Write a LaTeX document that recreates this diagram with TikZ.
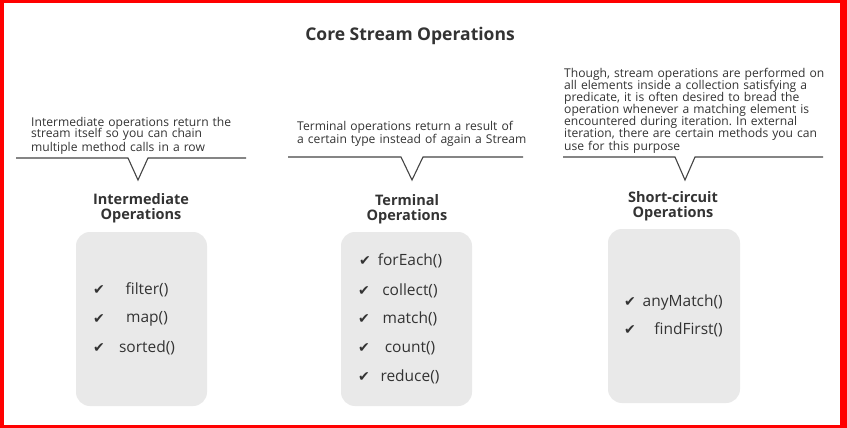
\documentclass[tikz,border=0pt]{standalone}
\usepackage{fontspec}
\setmainfont{Open Sans}
\newfontfamily\symfont{DejaVu Sans}
\definecolor{txt}{HTML}{333333}
\definecolor{ln}{HTML}{444444}
\definecolor{boxfill}{HTML}{E9E9E9}
\newcommand\tightls{\lineskiplimit=-100pt\relax\lineskip=0pt\relax}
\frenchspacing
\begin{document}
\begin{tikzpicture}[x=1pt,y=-1pt,
  desc/.style={anchor=base west,inner sep=0pt,align=left,text=txt,font=\fontsize{12.1}{#1}\selectfont},
  head/.style={inner sep=0pt,align=center,text=txt,font=\bfseries\fontsize{14.5}{15}\selectfont},
  opbox/.style={fill=boxfill,rounded corners=14pt},
  item/.style={inner sep=0pt,text=txt,font=\fontsize{15.5}{17}\selectfont},
  chk/.style={inner sep=0pt,text=txt,font=\symfont\fontsize{14}{14}\selectfont},
  callout/.style={draw=ln,line width=1.1pt}]
\useasboundingbox (0,0) rectangle (847,428);
\fill[red] (0,0) rectangle (847,428);
\fill[white] (4,3) rectangle (840,425);
\node[inner sep=0pt,text=txt,font=\bfseries\fontsize{17.5}{20}\selectfont] (title) at (410,36) {Core Stream Operations};

% left
\node[desc=11.5,text width=240pt] (d1) at (31,126.5) {\tightls Intermediate operations return the\\stream itself so you can chain\\multiple method calls in a row};
\coordinate (l1a) at (16,158); \coordinate (l1b) at (128,158); \coordinate (l1c) at (138,180);
\coordinate (l1d) at (148,158); \coordinate (l1e) at (246,158);
\draw[callout] (l1a) -- (l1b) -- (l1c) -- (l1d) -- (l1e);
\node[head] (h1) at (141,208.5) {Intermediate\\Operations};
\node[opbox,minimum width=131pt,minimum height=174pt] (b1) at (141.5,319) {};
\node[chk] (c1a) at (99,290) {✔};
\node[item] (i1a) at (147,290) {filter()};
\node[chk] (c1b) at (99,319) {✔};
\node[item] (i1b) at (147,319) {map()};
\node[chk] (c1c) at (99,348) {✔};
\node[item] (i1c) at (147,348) {sorted()};

% middle
\node[desc=12.3,text width=260pt] (d2) at (297,131) {\tightls Terminal operations return a result of\\a certain type instead of again a Stream};
\coordinate (l2a) at (288,157); \coordinate (l2b) at (401,157); \coordinate (l2c) at (412,180);
\coordinate (l2d) at (423,157); \coordinate (l2e) at (523,157);
\draw[callout] (l2a) -- (l2b) -- (l2c) -- (l2d) -- (l2e);
\node[head] (h2) at (407,209) {Terminal\\Operations};
\node[opbox,minimum width=131pt,minimum height=174pt] (b2) at (406.5,319) {};
\node[chk] (c2a) at (365,261) {✔};
\node[item] (i2a) at (410,261) {forEach()};
\node[chk] (c2b) at (364,291) {✔};
\node[item] (i2b) at (410,291) {collect()};
\node[chk] (c2c) at (364,319) {✔};
\node[item] (i2c) at (410,319) {match()};
\node[chk] (c2d) at (364,348) {✔};
\node[item] (i2d) at (410,348) {count()};
\node[chk] (c2e) at (364,377) {✔};
\node[item] (i2e) at (410,377) {reduce()};

% right
\node[desc=12,text width=275pt] (d3) at (564,77.5) {\tightls Though, stream operations are performed on\\all elements inside a collection satisfying a\\predicate, it is often desired to bread the\\operation whenever a matching element is\\encountered during iteration. In external\\iteration, there are certain methods you can\\use for this purpose};
\coordinate (l3a) at (563,157); \coordinate (l3b) at (675,157); \coordinate (l3c) at (685,180);
\coordinate (l3d) at (695,157); \coordinate (l3e) at (823,157);
\draw[callout] (l3a) -- (l3b) -- (l3c) -- (l3d) -- (l3e);
\node[head] (h3) at (673,206.5) {Short-circuit\\Operations};
\node[opbox,minimum width=132pt,minimum height=174pt] (b3) at (674,316) {};
\node[chk] (c3a) at (630,302) {✔};
\node[item,anchor=east] (i3a) at (723,302) {anyMatch()};
\node[chk] (c3b) at (630,330) {✔};
\node[item,anchor=east] (i3b) at (723,330) {findFirst()};
\end{tikzpicture}
\end{document}
